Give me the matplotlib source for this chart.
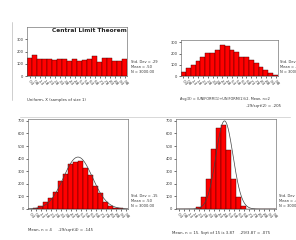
import numpy as np
import matplotlib
matplotlib.use("Agg")
import matplotlib.pyplot as plt

# bin edges shared by all four histograms (20 bins on 0..1)
bin_left = np.arange(20) * 0.05
bin_width = 0.05
bin_labels = [".03", ".08", ".13", ".18", ".23", ".28", ".33", ".38", ".43", ".48",
              ".53", ".58", ".63", ".68", ".73", ".78", ".83", ".88", ".93", ".98"]

# counts
uniform_n1 = [150, 173, 140, 140, 140, 132, 140, 138, 122, 138,
              122, 132, 138, 160, 114, 150, 148, 122, 122, 140]
mean_n2 = [39, 68, 98, 136, 172, 202, 202, 231, 276, 270,
           231, 216, 172, 166, 142, 113, 83, 53, 30, 12]
mean_n4 = [2, 8, 20, 53, 90, 139, 219, 277, 357, 375,
           379, 325, 272, 179, 125, 53, 27, 11, 5, 2]
mean_n15 = [0, 0, 0, 2, 15, 95, 240, 480, 640, 665,
            470, 240, 95, 20, 3, 0, 0, 0, 0, 0]

# fitted normal curves (bottom panels only)
fit_mean = [0.50, 0.485]
fit_sd = [0.145, 0.0855]
n_total = 3000

stats = ["Std. Dev = .29\nMean = .50\nN = 3000.00",
         "Std. Dev = .20\nMean = .50\nN = 3000.00",
         "Std. Dev = .15\nMean = .50\nN = 3000.00",
         "Std. Dev = .08\nMean = .49\nN = 3000.00"]

W, H = 296, 240
fig = plt.figure(figsize=(W / 100, H / 100), dpi=100)
fig.patch.set_facecolor("white")


def px_axes(x0, top, x1, bottom):
    return fig.add_axes([x0 / W, 1 - bottom / H, (x1 - x0) / W, (bottom - top) / H])


def hist_panel(ax, counts, ymax, yticks):
    ax.bar(bin_left, counts, width=bin_width, align="edge",
           color="#ff0000", edgecolor="#3a0000", linewidth=0.3)
    ax.set_xlim(0, 1)
    ax.set_ylim(0, ymax)
    ax.set_yticks(yticks)
    ax.set_yticklabels([str(t) for t in yticks], fontsize=2.6, color="#333333")
    ax.set_xticks(bin_left + bin_width / 2)
    ax.set_xticklabels(bin_labels, fontsize=2.9, rotation=-50, ha="left",
                       rotation_mode="anchor", color="#333333")
    ax.tick_params(length=1.5, width=0.4, pad=1)
    for s in ax.spines.values():
        s.set_linewidth(0.4)
        s.set_color("#555555")


def normal_curve(ax, mean, sd):
    x = np.linspace(0, 1, 300)
    y = n_total * bin_width / (sd * np.sqrt(2 * np.pi)) * np.exp(-0.5 * ((x - mean) / sd) ** 2)
    ax.plot(x, y, color="#444444", linewidth=0.5)


ax1 = px_axes(27, 27, 127, 76)
hist_panel(ax1, uniform_n1, 400, [0, 100, 200, 300])
ax2 = px_axes(181, 40, 278, 76)
hist_panel(ax2, mean_n2, 320, [0, 100, 200, 300])
ax3 = px_axes(28, 119, 128, 209)
hist_panel(ax3, mean_n4, 715, list(range(0, 800, 100)))
normal_curve(ax3, fit_mean[0], fit_sd[0])
ax4 = px_axes(176, 119, 276, 209)
hist_panel(ax4, mean_n15, 715, list(range(0, 800, 100)))
normal_curve(ax4, fit_mean[1], fit_sd[1])

ax1.text(0.62, 0.97, "Central Limit Theorem", transform=ax1.transAxes,
         fontsize=4.2, fontweight="bold", ha="center", va="top", color="#222222")

# side statistics (the right-hand ones run off the page, as in the original)
for (x, y), txt in zip([(131, 60), (280, 60), (131, 194), (279, 194)], stats):
    fig.text(x / W, 1 - y / H, txt, fontsize=2.6, va="top", ha="left",
             linespacing=1.3, color="#333333")

# captions
small = dict(fontsize=2.8, color="#333333", va="center")
fig.text(27 / W, 1 - 100 / H, "Uniform, X (samples of size 1)", **small)
fig.text(180 / W, 1 - 99 / H, "Avg(X) = (UNIFORM(1)+UNIFORM(1))/2. Mean, n=2",
         fontsize=2.5, color="#333333", va="center")
fig.text(281 / W, 1 - 106 / H, ".29/sqrt(2) = .205", ha="right", fontsize=2.8,
         color="#333333", va="center")
fig.text(28 / W, 1 - 230 / H, "Mean, n = 4", **small)
fig.text(58 / W, 1 - 230 / H, ".29/sqrt(4) = .145", **small)
fig.text(172 / W, 1 - 233 / H, "Mean, n = 15. Sqrt of 15 is 3.87    .29/3.87 = .075", **small)

# faint page frame lines
fig.add_artist(plt.Line2D([12 / W, 12 / W], [1 - 22 / H, 1 - 100 / H],
                          color="#aaaaaa", linewidth=0.4))
fig.add_artist(plt.Line2D([20 / W, 290 / W], [1 - 117 / H, 1 - 117 / H],
                          color="#bbbbbb", linewidth=0.4))

fig.savefig("out.png", dpi=100, facecolor="white")
